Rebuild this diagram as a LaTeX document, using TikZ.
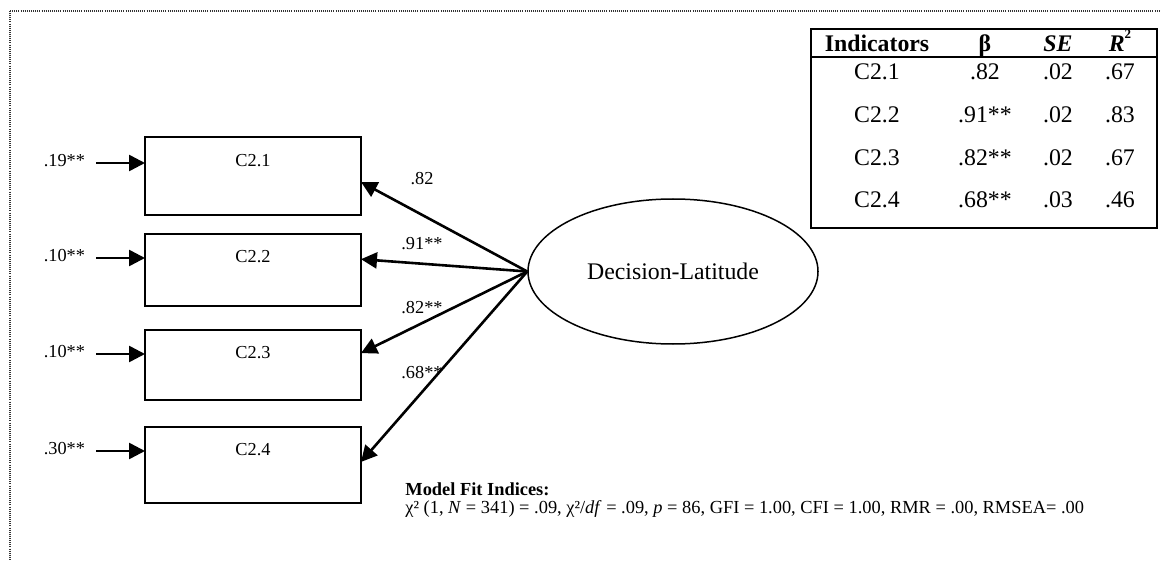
\documentclass[tikz,border=0pt]{standalone}
\usepackage{fontspec}
\setmainfont{Liberation Serif}
\usetikzlibrary{arrows.meta,calc,shapes.geometric}

\newcommand\fsBox{\fontsize{9.15pt}{11pt}\selectfont}
\newcommand\fsBig{\fontsize{11.9pt}{14pt}\selectfont}
\newcommand\fsFit{\fontsize{9.2pt}{11pt}\selectfont}
\newcommand\smallsup[1]{\raisebox{0.55em}{\fontsize{6.5pt}{7pt}\selectfont #1}}

\begin{document}
\begin{tikzpicture}[x=0.5pt,y=-0.5pt,
  indicator/.style={draw, line width=1pt, fill=white, minimum width=108pt,
    inner sep=0pt, outer sep=0pt},
  boxlab/.style={font=\fsBox, inner sep=0pt},
  errlab/.style={font=\fsBox, inner sep=0pt, outer xsep=5.5pt, anchor=east},
  loadlab/.style={font=\fsBox, inner sep=0pt},
  arr/.style={line width=1.3pt, -{Triangle[length=8pt,width=8pt]}},
  latent/.style={draw, ellipse, line width=0.75pt, minimum width=145pt,
    minimum height=72.5pt, inner sep=0pt, font=\fsBig},
  tcell/.style={font=\fsBig, inner sep=0pt, anchor=base},
  frame/.style={line width=0.6pt, black!80, dash pattern=on 0.5pt off 0.55pt},
]
\useasboundingbox (0,0) rectangle (1161,561);

% dotted outer frame (top and left edges)
\draw[frame] (10,11) -- (1161,11);
\draw[frame] (10,11) -- (10,561);

% observed indicators
\node[indicator, minimum height=39pt] (b1) at (253,176) {};
\node[indicator, minimum height=36pt] (b2) at (253,270) {};
\node[indicator, minimum height=35pt] (b3) at (253,365) {};
\node[indicator, minimum height=38pt] (b4) at (253,465) {};
\node[boxlab] (l1) at (253,161) {C2.1};
\node[boxlab] (l2) at (253,257) {C2.2};
\node[boxlab] (l3) at (253,353) {C2.3};
\node[boxlab] (l4) at (253,450) {C2.4};

% error variances
\node[errlab] (e1) at (96,161) {.19**};
\node[errlab] (e2) at (96,256) {.10**};
\node[errlab] (e3) at (96,352) {.10**};
\node[errlab] (e4) at (96,449) {.30**};
\foreach \i in {1,...,4}
  \draw[arr] ([yshift=-1pt]e\i.east) -- ([yshift=-1pt]e\i.east -| b\i.west);

% latent factor
\node[latent] (lv) at (673,271.5) {Decision-Latitude};

% factor loadings
\draw[arr] (lv.west) -- ($(b1.north east)!0.577!(b1.south east)$);
\draw[arr] (lv.west) -- ($(b2.north east)!0.35!(b2.south east)$);
\draw[arr] (lv.west) -- ($(b3.north east)!0.33!(b3.south east)$);
\draw[arr] (lv.west) -- ($(b4.north east)!0.46!(b4.south east)$);
\node[loadlab] (w1) at (422,179) {.82};
\node[loadlab] (w2) at (422,244) {.91**};
\node[loadlab] (w3) at (422,308) {.82**};
\node[loadlab] (w4) at (422,373) {.68**};

% table of estimates
\node[draw, line width=1pt, fill=white, minimum width=173pt, minimum height=99.5pt,
  inner sep=0pt] (tbl) at (984,128.5) {};
\coordinate (hr) at (811,57);
\draw[line width=0.8pt] (tbl.west |- hr) -- (tbl.east |- hr);
\node[tcell] (h1) at (877,52) {\textbf{Indicators}};
\node[tcell] (h2) at (985,52) {\textbf{β}};
\node[tcell] (h3) at (1058,52) {\textbf{\textit{SE}}};
\node[tcell] (h4) at (1120,52) {\textbf{\textit{R}\smallsup{2}}};
\foreach \r/\y/\ind/\be/\se/\rr in {1/80/C2.1/.82/.02/.67, 2/123/C2.2/.91**/.02/.83,
    3/166/C2.3/.82**/.02/.67, 4/208/C2.4/.68**/.03/.46} {
  \node[tcell] (r\r a) at (877,\y) {\ind};
  \node[tcell] (r\r b) at (985,\y) {\be};
  \node[tcell] (r\r c) at (1058,\y) {\se};
  \node[tcell] (r\r d) at (1120,\y) {\rr};
}

% fit statistics
\node[font=\fsFit, inner sep=0pt, anchor=base west] (fit1) at (405,495)
  {\textbf{Model Fit Indices:}};
\node[font=\fsFit, inner sep=0pt, anchor=base west] (fit2) at (405,513)
  {χ² (1, \textit{N} = 341) = .09, χ²/\textit{df} = .09, \textit{p} = 86, GFI = 1.00, CFI = 1.00, RMR = .00, RMSEA= .00};
\end{tikzpicture}
\end{document}
